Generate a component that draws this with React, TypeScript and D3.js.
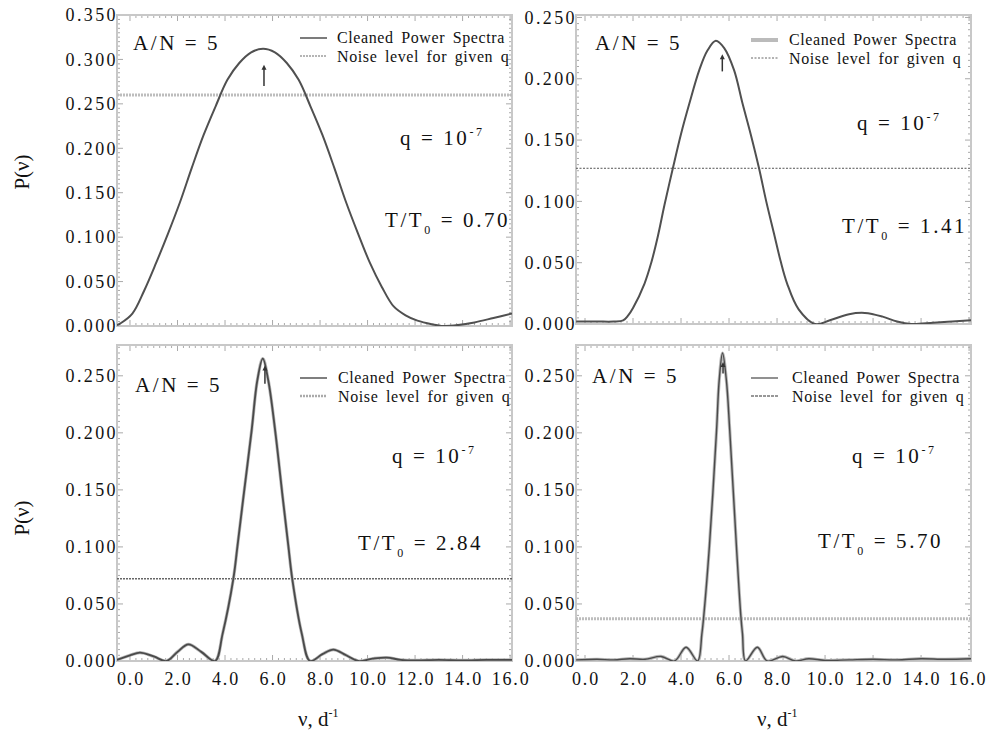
import React from 'react';
import * as d3 from 'd3';

// cleaned power spectra, [nu (1/d), P(nu)]
const spectrum070: [number, number][] = [
  [-0.55, 0.001], [-0.4, 0.003], [0.1, 0.014], [0.6, 0.04], [1.1, 0.071], [1.6, 0.104],
  [2.1, 0.139], [2.6, 0.178], [3.1, 0.215], [3.6, 0.247], [4.1, 0.277], [4.6, 0.296],
  [5.1, 0.308], [5.6, 0.312], [6.1, 0.308], [6.6, 0.296], [7.1, 0.277], [7.6, 0.247],
  [8.1, 0.215], [8.6, 0.178], [9.1, 0.139], [9.6, 0.104], [10.1, 0.071], [10.6, 0.044],
  [11.1, 0.022], [11.6, 0.012], [12.1, 0.006], [12.7, 0.002], [13.2, 0.0], [13.8, 0.001],
  [14.5, 0.004], [15.3, 0.009], [16.08, 0.014],
];
const spectrum141: [number, number][] = [
  [-0.37, 0.002], [0.5, 0.002], [1.2, 0.002], [1.59, 0.003], [1.8, 0.007], [2.0, 0.013],
  [2.48, 0.033], [2.76, 0.05], [3.04, 0.072], [3.31, 0.097], [3.66, 0.127], [4.0, 0.155],
  [4.35, 0.18], [4.76, 0.207], [5.1, 0.223], [5.45, 0.231], [5.8, 0.225], [6.21, 0.207],
  [6.56, 0.18], [6.9, 0.155], [7.25, 0.127], [7.55, 0.1], [7.87, 0.074], [8.14, 0.052],
  [8.42, 0.033], [8.9, 0.012], [9.59, 0.0], [10.2, 0.003], [11.0, 0.008], [11.66, 0.009],
  [12.4, 0.006], [13.0, 0.002], [13.6, 0.0], [14.5, 0.001], [15.3, 0.002], [16.08, 0.003],
];
const spectrum284: [number, number][] = [
  [-0.55, 0.001], [0.0, 0.005], [0.42, 0.0073], [1.0, 0.004], [1.54, 0.0], [2.0, 0.008],
  [2.46, 0.0146], [3.0, 0.008], [3.58, 0.0], [3.9, 0.024], [4.35, 0.072], [4.52, 0.1],
  [4.77, 0.143], [5.12, 0.202], [5.36, 0.246], [5.59, 0.265], [5.82, 0.246], [6.11, 0.202],
  [6.43, 0.143], [6.67, 0.1], [6.83, 0.072], [7.23, 0.024], [7.58, 0.0], [8.1, 0.006],
  [8.56, 0.01], [9.1, 0.005], [9.61, 0.0], [10.2, 0.002], [10.81, 0.003], [11.4, 0.001],
  [12.07, 0.0005], [13.0, 0.001], [14.0, 0.0005], [15.0, 0.001], [16.08, 0.001],
];
const spectrum570: [number, number][] = [
  [-0.37, 0.001], [0.5, 0.0015], [1.2, 0.001], [1.86, 0.002], [2.5, 0.0015], [3.17, 0.004],
  [3.73, 0.0], [4.21, 0.012], [4.69, 0.0], [4.87, 0.024], [4.95, 0.04], [5.18, 0.1],
  [5.48, 0.202], [5.59, 0.246], [5.73, 0.27], [5.89, 0.246], [6.03, 0.202], [6.31, 0.1],
  [6.49, 0.04], [6.56, 0.024], [6.69, 0.0], [7.18, 0.012], [7.59, 0.0], [8.24, 0.004],
  [8.77, 0.0], [9.32, 0.002], [10.0, 0.0005], [11.0, 0.001], [12.0, 0.0015], [13.0, 0.001],
  [14.0, 0.002], [15.0, 0.0015], [16.08, 0.002],
];

const ratios = ['0.70', '1.41', '2.84', '5.70'];
const noiseLevels = [0.26, 0.127, 0.072, 0.037];
const arrowNu = [5.64, 5.72, 5.68, 5.75];
const arrowFrom = [0.27, 0.206, 0.243, 0.252];
const arrowTo = [0.294, 0.22, 0.259, 0.262];
const yMaxes = [0.35, 0.252, 0.277, 0.277];
const yTicksTop = [0, 0.05, 0.1, 0.15, 0.2, 0.25, 0.3, 0.35];
const yTicksShort = [0, 0.05, 0.1, 0.15, 0.2, 0.25];
const xTicks = [0, 2, 4, 6, 8, 10, 12, 14, 16];
const legendLabels = ['Cleaned Power Spectra', 'Noise level for given q'];

const FONT = "'Liberation Serif', 'Times New Roman', Tinos, 'DejaVu Serif', serif";

type Stroke = { color: string; width: number; dash?: string };

const layouts = [
  {
    box: { x0: 117, x1: 512, y0: 15, y1: 326 }, nu: [-0.547, 16.08], yTicks: yTicksTop, xLabels: false,
    an: [133, 50], q: [400, 145], t: [385, 227], leg: { lx: 300, tx: 337, y: [43, 62] },
    curve: { color: '#505050', width: 2 } as Stroke, halo: false,
    noise: { color: '#bdbdbd', width: 3, dash: '2,1' } as Stroke,
    legC: { color: '#505050', width: 1.5 } as Stroke, legN: { color: '#b5b5b5', width: 2, dash: '2,1' } as Stroke,
  },
  {
    box: { x0: 576, x1: 971, y0: 15, y1: 324 }, nu: [-0.375, 16.08], yTicks: yTicksShort, xLabels: false,
    an: [595, 50], q: [857, 130], t: [842, 233], leg: { lx: 751, tx: 789, y: [45, 64] },
    curve: { color: '#505050', width: 2 } as Stroke, halo: false,
    noise: { color: '#555', width: 1, dash: '2,1.5' } as Stroke,
    legC: { color: '#bbbbbb', width: 4 } as Stroke, legN: { color: '#666', width: 1, dash: '2,1.5' } as Stroke,
  },
  {
    box: { x0: 117, x1: 512, y0: 345, y1: 661 }, nu: [-0.547, 16.08], yTicks: yTicksShort, xLabels: true,
    an: [135, 392], q: [392, 463], t: [358, 550], leg: { lx: 300, tx: 338, y: [383, 402] },
    curve: { color: '#4a4a4a', width: 1.8 } as Stroke, halo: true,
    noise: { color: '#666', width: 1.5, dash: '2,1' } as Stroke,
    legC: { color: '#555', width: 1.5 } as Stroke, legN: { color: '#aaa', width: 2.5, dash: '2,1' } as Stroke,
  },
  {
    box: { x0: 576, x1: 971, y0: 345, y1: 661 }, nu: [-0.375, 16.08], yTicks: yTicksShort, xLabels: true,
    an: [592, 383], q: [852, 463], t: [818, 548], leg: { lx: 751, tx: 792, y: [383, 402] },
    curve: { color: '#4a4a4a', width: 1.4 } as Stroke, halo: true,
    noise: { color: '#bdbdbd', width: 3, dash: '2,1' } as Stroke,
    legC: { color: '#555', width: 1.3 } as Stroke, legN: { color: '#777', width: 1.3, dash: '3,1' } as Stroke,
  },
];

const spectra = [spectrum070, spectrum141, spectrum284, spectrum570];

const Panel = ({ i }: { i: number }) => {
  const L = layouts[i];
  const { x0, x1, y0, y1 } = L.box;
  const x = d3.scaleLinear().domain(L.nu).range([x0, x1]);
  const y = d3.scaleLinear().domain([0, yMaxes[i]]).range([y1, y0]);
  const line = d3
    .line<[number, number]>()
    .x(d => x(d[0]))
    .y(d => y(d[1]))
    .curve(d3.curveCatmullRom.alpha(0.5));
  const path = line(spectra[i]) || '';

  const minorX = d3.range(0, 16.01, 0.25);
  const minorY = d3.range(0, yMaxes[i] + 1e-9, 0.005);
  const clipId = `clip${i}`;
  const ax = x(arrowNu[i]);

  return (
    <g>
      <defs>
        <clipPath id={clipId}>
          <rect x={x0} y={y0} width={x1 - x0} height={y1 - y0} />
        </clipPath>
      </defs>
      {/* frame ticks */}
      <g stroke="#aaa" strokeWidth={1}>
        {minorX.map((v, k) => {
          const len = Math.abs(v % 2) < 1e-6 ? 6 : 3;
          return (
            <g key={'x' + k}>
              <line x1={x(v)} x2={x(v)} y1={y1} y2={y1 - len} />
              <line x1={x(v)} x2={x(v)} y1={y0} y2={y0 + len} />
            </g>
          );
        })}
        {minorY.map((v, k) => {
          const len = Math.abs((v * 1000) % 50) < 1e-3 ? 6 : 3;
          return (
            <g key={'y' + k}>
              <line x1={x0} x2={x0 + len} y1={y(v)} y2={y(v)} />
              <line x1={x1} x2={x1 - len} y1={y(v)} y2={y(v)} />
            </g>
          );
        })}
      </g>
      <rect x={x0} y={y0} width={x1 - x0} height={y1 - y0} fill="none" stroke="#c8c8c8" strokeWidth={2} />

      {/* noise level */}
      <line
        x1={x0} x2={x1} y1={y(noiseLevels[i])} y2={y(noiseLevels[i])}
        stroke={L.noise.color} strokeWidth={L.noise.width} strokeDasharray={L.noise.dash}
      />

      {/* spectrum */}
      <g clipPath={`url(#${clipId})`}>
        {L.halo && <path d={path} fill="none" stroke="#b8b8b8" strokeWidth={3.2} />}
        <path d={path} fill="none" stroke={L.curve.color} strokeWidth={L.curve.width} strokeLinejoin="round" />
      </g>

      {/* true frequency arrow */}
      <line x1={ax} x2={ax} y1={y(arrowFrom[i])} y2={y(arrowTo[i]) + 4} stroke="#333" strokeWidth={1.5} />
      <path d={`M${ax - 2.5},${y(arrowTo[i]) + 5} L${ax},${y(arrowTo[i])} L${ax + 2.5},${y(arrowTo[i]) + 5} Z`} fill="#333" />

      {/* y tick labels */}
      <g fill="#111" style={{ fontFamily: FONT, fontSize: 18, letterSpacing: 2.4 }}>
        {L.yTicks.map(v => (
          <text key={v} x={x0 + 1} y={y(v)} dy="0.35em" textAnchor="end">
            {d3.format('.3f')(v)}
          </text>
        ))}
      </g>

      {/* x tick labels */}
      {L.xLabels && (
        <g fill="#111" style={{ fontFamily: FONT, fontSize: 18, letterSpacing: 1.8 }}>
          {xTicks.map(v => (
            <text key={v} x={Math.min(x(v) + 1, 968)} y={685} textAnchor="middle">
              {d3.format('.1f')(v)}
            </text>
          ))}
        </g>
      )}

      {/* annotations */}
      <g fill="#111" style={{ fontFamily: FONT, fontSize: 21, letterSpacing: 2.6 }}>
        <text x={L.an[0]} y={L.an[1]}>A/N = 5</text>
        <text x={L.q[0]} y={L.q[1]}>
          q = 10<tspan style={{ fontSize: 12 }} dy={-9}>-7</tspan>
        </text>
        <text x={L.t[0]} y={L.t[1]}>
          T/T<tspan style={{ fontSize: 12 }} dy={7}>0</tspan>
          <tspan dy={-7}> = {ratios[i]}</tspan>
        </text>
      </g>

      {/* legend */}
      <g fill="#111" style={{ fontFamily: FONT, fontSize: 16, letterSpacing: 0.6, wordSpacing: 3 }}>
        <line
          x1={L.leg.lx} x2={L.leg.lx + 27} y1={L.leg.y[0] - 5} y2={L.leg.y[0] - 5}
          stroke={L.legC.color} strokeWidth={L.legC.width}
        />
        <line
          x1={L.leg.lx} x2={L.leg.lx + 27} y1={L.leg.y[1] - 6} y2={L.leg.y[1] - 6}
          stroke={L.legN.color} strokeWidth={L.legN.width} strokeDasharray={L.legN.dash}
        />
        <text x={L.leg.tx} y={L.leg.y[0]}>{legendLabels[0]}</text>
        <text x={L.leg.tx} y={L.leg.y[1]}>{legendLabels[1]}</text>
      </g>
    </g>
  );
};

export default function App() {
  return (
    <svg
      width={988}
      height={736}
      style={{ position: 'absolute', left: 0, top: 0, background: '#fff' }}
    >
      {layouts.map((_, i) => (
        <Panel key={i} i={i} />
      ))}
      {/* axis titles */}
      <g fill="#111" style={{ fontFamily: FONT, fontSize: 21 }}>
        <text transform="translate(29,172) rotate(-90)" textAnchor="middle">P(ν)</text>
        <text transform="translate(29,518) rotate(-90)" textAnchor="middle">P(ν)</text>
        <text x={298} y={726}>
          ν, d<tspan style={{ fontSize: 12 }} dy={-9}>-1</tspan>
        </text>
        <text x={757} y={726}>
          ν, d<tspan style={{ fontSize: 12 }} dy={-9}>-1</tspan>
        </text>
      </g>
    </svg>
  );
}
